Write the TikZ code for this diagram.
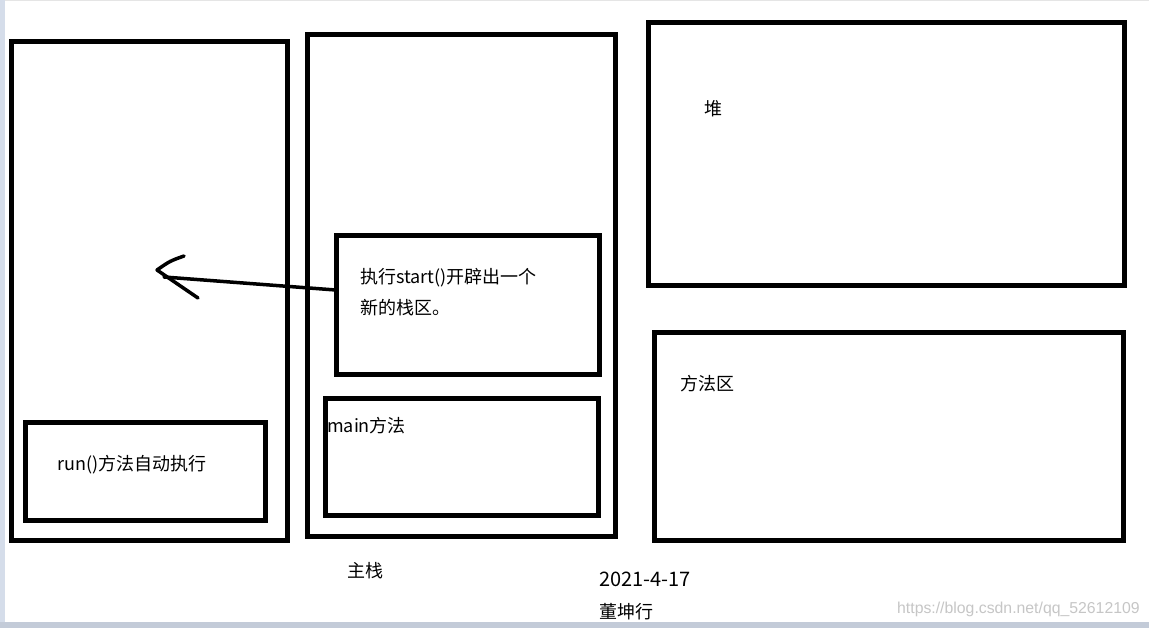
\documentclass[tikz,border=0pt]{standalone}
\usepackage{fontspec}
\setmainfont{Noto Sans CJK SC}
\newfontfamily\markfont{Liberation Sans}
\usepackage{tikz}
\definecolor{edgeblue}{HTML}{D5DDEA}
\definecolor{barblue}{HTML}{C3CBD8}

\begin{document}
\begin{tikzpicture}[x=1bp, y=-1bp,
    box/.style={draw, line width=5bp, inner sep=0pt, minimum width=#1},
    hand/.style={line width=3.5bp, line cap=round, line join=round},
    txt/.style={inner sep=0pt, anchor=base west, font=\fontsize{18bp}{22bp}\selectfont}]
    \useasboundingbox (0, 0) rectangle (1149, 628);
    \fill [white] (0, 0) rectangle (1149, 628);
    \fill [edgeblue] (0, 0) rectangle (5, 622);
    \fill [barblue] (0, 622) rectangle (1149, 628);
    \fill [gray!20] (5, 0) rectangle (1149, 1.5);

    % thread stack
    \node [box=275.5bp, minimum height=498.3bp] (threadstack) at (149.25, 290.85) {};
    \node [box=239.8bp, minimum height=97.5bp] (run) at (145.6, 471.25) {};
    % main stack
    \node [box=308bp, minimum height=502.2bp] (mainstack) at (461.5, 285.6) {};
    \node [box=262.2bp, minimum height=138.2bp] (start) at (467.9, 304.9) {};
    \node [box=272.7bp, minimum height=116.7bp] (mainm) at (462.15, 456.65) {};
    % heap and method area
    \node [box=476bp, minimum height=262.5bp] (heap) at (886.5, 153.75) {};
    \node [box=469bp, minimum height=207.5bp] (methodarea) at (889, 436.25) {};

    \node [txt] (runlbl) at (57, 470) {run()方法自动执行};
    \node [txt] (startlbl) at (360, 283.7) {执行start()开辟出一个};
    \node [txt] (startlblb) at (360, 315) {新的栈区。};
    \node [txt] (mainlbl) at (327, 432) {main方法};
    \node [txt] (heaplbl) at (704, 116) {堆};
    \node [txt] (methodlbl) at (680, 390) {方法区};
    \node [txt] (mainstacklbl) at (347, 577) {主栈};
    \node [txt, font=\fontsize{20bp}{24bp}\selectfont] (datelbl) at (599, 586.5) {2021-4-17};
    \node [txt] (namelbl) at (599, 618) {董坤行};
    \node [inner sep=0pt, anchor=base west, text=gray!45,
      font=\markfont\fontsize{15.8bp}{18bp}\selectfont] (mark) at (897, 613.5)
      {https://blog.csdn.net/qq\_52612109};

    % hand drawn arrow
    \coordinate (tip) at (157, 270);
    \coordinate (tail) at (164, 277);
    \draw [hand] ([yshift=15bp]start.west) -- (tail);
    \draw [hand] (184, 256) .. controls (170, 261) .. (tip) -- (198, 298);
  \end{tikzpicture}
\end{document}
